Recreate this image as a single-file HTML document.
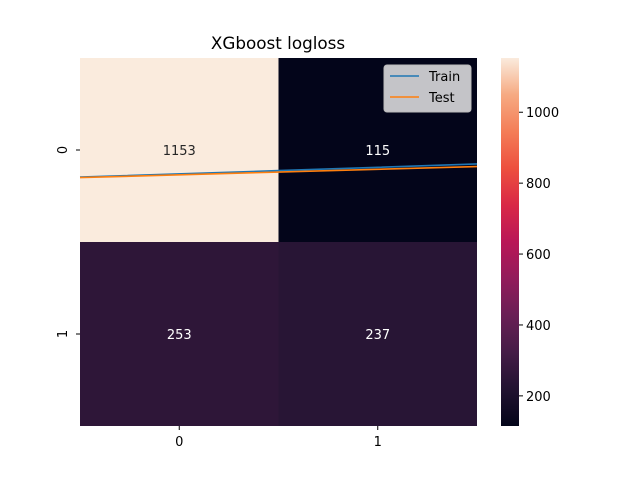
<!DOCTYPE html>
<html><head><meta charset="utf-8"><style>
body{margin:0;background:#fff;font-family:"Liberation Sans","DejaVu Sans",sans-serif}
</style></head><body>
<svg width="640" height="480" xmlns="http://www.w3.org/2000/svg" font-family="DejaVu Sans, Liberation Sans, sans-serif">
<defs>
<linearGradient id="rocket" x1="0" y1="1" x2="0" y2="0">
<stop offset="0" stop-color="#03051a"/><stop offset="0.1" stop-color="#221331"/><stop offset="0.2" stop-color="#451c47"/><stop offset="0.3" stop-color="#691f55"/><stop offset="0.4" stop-color="#921c5b"/><stop offset="0.5" stop-color="#b91657"/><stop offset="0.6" stop-color="#d92847"/><stop offset="0.7" stop-color="#ed503e"/><stop offset="0.8" stop-color="#f47d57"/><stop offset="0.9" stop-color="#f6aa82"/><stop offset="1" stop-color="#faebdd"/>
</linearGradient>
</defs>
<text x="278" y="49" font-size="16.8" text-anchor="middle" fill="#000">XGboost logloss</text>
<g id="cells"></g>
<g id="lines"></g>
<g id="axes"></g>
<rect x="501" y="58" width="18" height="368" fill="url(#rocket)"/>
<g id="cbticks"></g>
<g>
<rect x="384" y="65" width="87" height="47" rx="3" fill="#cfcfd2" fill-opacity="0.95" stroke="#bbb"/>
<line x1="390" y1="76" x2="419" y2="76" stroke="#1f77b4" stroke-width="1.6"/>
<text x="429" y="81" font-size="13" fill="#000">Train</text>
<line x1="390" y1="97" x2="419" y2="97" stroke="#ff7f0e" stroke-width="1.6"/>
<text x="429" y="102" font-size="13" fill="#000">Test</text>
</g>
</svg>
<script>
const rowLabels=["0","1"];
const colLabels=["0","1"];
const counts=[[1153,115],[253,237]];
const lineX=[0,1,2];
const trainY=[0.647,0.612,0.576];
const testY=[0.650,0.620,0.590];
const cbTicks=[200,400,600,800,1000];
const X0=80,X1=477,Y0=58,Y1=426;
const vmin=115,vmax=1153;
const sx=v=>X0+v*(X1-X0)/2, sy=v=>Y0+v*(Y1-Y0)/2;
const cy=v=>Y1-(v-vmin)/(vmax-vmin)*(Y1-Y0);
const stops=["#03051a","#221331","#451c47","#691f55","#921c5b","#b91657","#d92847","#ed503e","#f47d57","#f6aa82","#faebdd"];
function hex(h){return [1,3,5].map(i=>parseInt(h.substr(i,2),16));}
function cmap(v){let t=(v-vmin)/(vmax-vmin)*10;t=Math.max(0,Math.min(10,t));const i=Math.min(9,Math.floor(t)),f=t-i;const a=hex(stops[i]),b=hex(stops[i+1]);return "rgb("+a.map((c,k)=>Math.round(c+(b[k]-c)*f)).join(",")+")";}
const NS="http://www.w3.org/2000/svg";
function mk(tag,attrs,parent){const e=document.createElementNS(NS,tag);for(const k in attrs)e.setAttribute(k,attrs[k]);parent.appendChild(e);return e;}
const cells=document.getElementById('cells');
counts.forEach((row,r)=>row.forEach((v,c)=>{
 const rc=mk('rect',{x:sx(c),y:sy(r),width:sx(c+1)-sx(c),height:sy(r+1)-sy(r),fill:cmap(v)},cells);
 
 
 const t=mk('text',{x:sx(c+0.5),y:sy(r+0.5)+5,'font-size':13,'text-anchor':'middle',fill:v>(vmin+vmax)/2?'#262626':'#fff'},cells);
 t.textContent=v;
 
 
}));
const lines=document.getElementById('lines');
[[trainY,'#1f77b4','train-line'],[testY,'#ff7f0e','test-line']].forEach(([ys,col,n])=>{
 const p=mk('polyline',{points:lineX.map((x,i)=>sx(x)+','+sy(ys[i])).join(' '),fill:'none',stroke:col,'stroke-width':1.6},lines);
 
 
});
const axes=document.getElementById('axes');
colLabels.forEach((l,i)=>{
 mk('line',{x1:sx(i+0.5),x2:sx(i+0.5),y1:Y1,y2:Y1+4,stroke:'#000'},axes);
 const t=mk('text',{x:sx(i+0.5),y:Y1+20,'font-size':13,'text-anchor':'middle'},axes);
 t.textContent=l;
 
 
});
rowLabels.forEach((l,i)=>{
 const y=sy(i+0.5);
 mk('line',{x1:X0-4,x2:X0,y1:y,y2:y,stroke:'#000'},axes);
 const t=mk('text',{x:0,y:0,'font-size':13,'text-anchor':'middle',transform:'translate(67,'+y+') rotate(-90)'},axes);
 t.textContent=l;
 
 
});
const cbt=document.getElementById('cbticks');
cbTicks.forEach(v=>{
 const y=cy(v);
 mk('line',{x1:519,x2:523,y1:y,y2:y,stroke:'#000'},cbt);
 const t=mk('text',{x:526,y:y+5,'font-size':13},cbt);
 t.textContent=v;
 
 
});
</script>
</body></html>
